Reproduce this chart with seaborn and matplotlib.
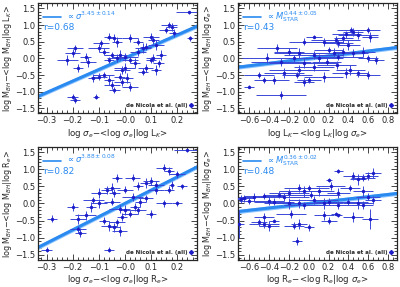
import numpy as np
import seaborn as sns
import matplotlib.pyplot as plt
from matplotlib.lines import Line2D
from matplotlib.ticker import MultipleLocator

# data
sig_lk_x = [0.245, 0.17, 0.18, 0.16, 0.19, 0.25, 0.10, 0.11, 0.12, 0.08, 0.02, 0.05, 0.07,
            -0.06, -0.04, -0.03, -0.09, -0.10, -0.08, -0.20, -0.22, -0.18, -0.19, -0.14, -0.15,
            -0.05, -0.03, -0.06, -0.02, 0.00, 0.02, 0.04, 0.05, 0.10, 0.11, 0.12, 0.08, 0.07,
            0.00, -0.01, -0.02, -0.01, 0.01, 0.02, -0.10, -0.12, -0.08, -0.06, -0.05, -0.04,
            -0.20, -0.19, -0.11, 0.14, 0.13]
sig_lk_y = [1.38, 1.00, 0.95, 0.85, 0.75, 0.60, 0.65, 0.55, 0.40, 0.35, 0.60, 0.50, 0.30,
            0.65, 0.60, 0.50, 0.45, 0.30, 0.20, 0.15, -0.05, -0.30, 0.30, -0.10, 0.05,
            0.10, 0.00, -0.05, 0.10, 0.05, -0.05, -0.15, 0.20, -0.05, 0.00, -0.35, -0.30, -0.40,
            -0.30, -0.35, -0.55, -0.70, -0.60, -0.85, -0.55, -0.60, -0.50, -0.65, -0.80, -0.95,
            -1.15, -1.25, -1.15, 0.10, -0.15]
sig_lk_xerr = [0.05, 0.03, 0.02, 0.03, 0.02, 0.01, 0.03, 0.02, 0.03, 0.02, 0.03, 0.02, 0.03,
               0.02, 0.03, 0.02, 0.03, 0.04, 0.02, 0.03, 0.04, 0.02, 0.03, 0.03, 0.02,
               0.03, 0.04, 0.02, 0.03, 0.05, 0.03, 0.02, 0.03, 0.02, 0.03, 0.02, 0.03, 0.02,
               0.04, 0.03, 0.02, 0.03, 0.02, 0.03, 0.03, 0.02, 0.04, 0.02, 0.03, 0.02,
               0.02, 0.02, 0.01, 0.02, 0.02]
sig_lk_yerr = [0.05, 0.10, 0.12, 0.10, 0.12, 0.08, 0.10, 0.12, 0.15, 0.10, 0.12, 0.10, 0.15,
               0.10, 0.12, 0.15, 0.10, 0.12, 0.10, 0.12, 0.15, 0.12, 0.10, 0.15, 0.12,
               0.10, 0.12, 0.10, 0.15, 0.12, 0.10, 0.15, 0.12, 0.10, 0.12, 0.15, 0.12, 0.10,
               0.15, 0.12, 0.10, 0.12, 0.15, 0.12, 0.10, 0.12, 0.10, 0.15, 0.12, 0.10,
               0.08, 0.10, 0.08, 0.15, 0.10]

lk_x = [0.43, 0.45, 0.60, 0.62, 0.50, 0.38, 0.35, 0.27, 0.30, 0.40, 0.15, 0.05, -0.05,
        -0.32, -0.20, -0.10, 0.05, 0.20, 0.25, 0.35, 0.30, 0.45, 0.55, 0.60, 0.68,
        -0.42, -0.28, -0.15, -0.05, 0.10, 0.18, 0.28, 0.42, 0.50, 0.60, 0.38,
        -0.60, -0.45, -0.35, -0.25, -0.12, -0.05, 0.00, 0.15, -0.28, -0.50, -0.10, 0.05]
lk_y = [0.85, 0.80, 0.85, 0.65, 0.70, 0.72, 0.60, 0.55, 0.45, 0.40, 0.50, 0.65, 0.50,
        0.30, 0.20, 0.15, 0.10, 0.25, 0.15, 0.20, 0.05, 0.15, 0.20, 0.00, -0.05,
        0.00, -0.10, 0.00, -0.15, 0.00, -0.10, -0.20, -0.35, -0.45, -0.50, -0.45,
        -0.85, -0.65, -0.65, -0.45, -0.50, -0.70, -0.65, -0.55, -1.10, -0.50, -0.35, -0.25]
lk_xerr = [0.15, 0.10, 0.12, 0.08, 0.20, 0.15, 0.10, 0.25, 0.15, 0.12, 0.20, 0.08, 0.15,
           0.20, 0.15, 0.25, 0.30, 0.15, 0.20, 0.10, 0.25, 0.15, 0.12, 0.10, 0.08,
           0.25, 0.30, 0.20, 0.35, 0.25, 0.15, 0.20, 0.15, 0.10, 0.12, 0.15,
           0.05, 0.10, 0.15, 0.20, 0.15, 0.10, 0.12, 0.20, 0.25, 0.15, 0.30, 0.20]
lk_yerr = [0.10, 0.12, 0.10, 0.15, 0.12, 0.10, 0.15, 0.12, 0.10, 0.15, 0.12, 0.05, 0.10,
           0.12, 0.10, 0.15, 0.12, 0.10, 0.15, 0.12, 0.10, 0.12, 0.15, 0.10, 0.12,
           0.15, 0.12, 0.10, 0.15, 0.12, 0.10, 0.12, 0.15, 0.10, 0.12, 0.15,
           0.05, 0.10, 0.12, 0.15, 0.10, 0.12, 0.10, 0.15, 0.12, 0.10, 0.15, 0.12]

sig_re_x = [0.24, 0.15, 0.17, 0.20, 0.22, 0.18, 0.17, 0.10, 0.08, 0.12, 0.05, 0.03, -0.03,
            -0.05, -0.04, 0.00, 0.03, 0.06, 0.08, 0.10, 0.15, 0.20, 0.12,
            -0.10, -0.07, -0.12, -0.10, -0.13, -0.05, -0.02, 0.00, 0.02, 0.04, 0.05,
            -0.20, -0.18, -0.15, -0.08, -0.06, -0.04, -0.03, -0.01, -0.02,
            -0.18, -0.17, -0.28, -0.30, -0.06]
sig_re_y = [1.55, 1.05, 0.95, 0.85, 0.50, 0.55, 0.40, 0.65, 0.60, 0.55, 0.50, 0.75, 0.75,
            0.45, 0.30, 0.40, 0.20, 0.05, 0.15, -0.30, 0.00, 0.00, 0.40,
            0.30, 0.40, 0.10, 0.00, -0.10, 0.05, -0.15, -0.20, -0.30, -0.10, -0.20,
            -0.10, -0.45, -0.35, -0.50, -0.65, -0.70, -0.55, -0.40, -0.80,
            -0.75, -0.85, -0.45, -1.35, -1.35]
sig_re_xerr = [0.05, 0.03, 0.02, 0.03, 0.02, 0.01, 0.02, 0.03, 0.02, 0.03, 0.02, 0.03, 0.02,
               0.03, 0.02, 0.03, 0.04, 0.02, 0.03, 0.02, 0.03, 0.02, 0.03,
               0.03, 0.02, 0.04, 0.03, 0.02, 0.03, 0.04, 0.02, 0.03, 0.02, 0.03,
               0.02, 0.03, 0.04, 0.02, 0.03, 0.02, 0.03, 0.02, 0.03,
               0.03, 0.02, 0.02, 0.02, 0.02]
sig_re_yerr = [0.05, 0.10, 0.12, 0.10, 0.08, 0.12, 0.10, 0.12, 0.15, 0.10, 0.12, 0.10, 0.12,
               0.15, 0.12, 0.10, 0.12, 0.15, 0.10, 0.12, 0.10, 0.08, 0.12,
               0.15, 0.12, 0.10, 0.12, 0.15, 0.10, 0.12, 0.15, 0.10, 0.12, 0.10,
               0.12, 0.15, 0.12, 0.10, 0.15, 0.12, 0.10, 0.12, 0.15,
               0.10, 0.12, 0.10, 0.08, 0.08]

re_x = [0.65, 0.60, 0.55, 0.45, 0.50, 0.30, 0.20, 0.22, 0.42, 0.30, 0.10, 0.00, -0.05,
        -0.10, 0.02, -0.20, -0.30, -0.25, -0.45, -0.55, -0.65, -0.68,
        -0.60, -0.40, -0.35, -0.20, -0.10, -0.05, 0.05, 0.15, 0.20, 0.30, 0.40, 0.50,
        0.55, 0.60, 0.65, 0.55,
        -0.45, -0.50, -0.45, -0.40, -0.35, -0.18, -0.15, -0.10, 0.00, 0.15, 0.20, 0.27,
        0.30, 0.45, 0.62, -0.12, -0.70]
re_y = [0.90, 0.80, 0.75, 0.80, 0.70, 0.95, 0.68, 0.50, 0.45, 0.30, 0.35, 0.45, 0.35,
        0.45, 0.25, 0.30, 0.25, 0.20, 0.22, 0.20, 0.15, 0.12,
        0.08, 0.08, 0.05, 0.00, 0.00, -0.05, 0.10, 0.00, 0.05, -0.05, 0.05, 0.00,
        -0.05, 0.20, 0.10, 0.35,
        -0.40, -0.55, -0.60, -0.65, -0.50, -0.30, -0.65, -0.60, -0.70, -0.35, -0.50, -0.30,
        -0.35, -0.40, -0.45, -1.10, -0.60]
re_xerr = [0.08, 0.10, 0.12, 0.10, 0.08, 0.05, 0.03, 0.15, 0.10, 0.12, 0.15, 0.20, 0.25,
           0.15, 0.30, 0.20, 0.15, 0.25, 0.20, 0.15, 0.10, 0.05,
           0.10, 0.15, 0.20, 0.25, 0.30, 0.20, 0.25, 0.20, 0.15, 0.25, 0.20, 0.15,
           0.10, 0.12, 0.08, 0.10,
           0.10, 0.08, 0.15, 0.10, 0.05, 0.15, 0.10, 0.08, 0.05, 0.10, 0.08, 0.05,
           0.04, 0.10, 0.08, 0.05, 0.05]
re_yerr = [0.15, 0.12, 0.10, 0.12, 0.15, 0.05, 0.05, 0.12, 0.10, 0.15, 0.12, 0.10, 0.15,
           0.12, 0.10, 0.12, 0.10, 0.12, 0.10, 0.12, 0.10, 0.12,
           0.10, 0.12, 0.10, 0.15, 0.12, 0.10, 0.12, 0.15, 0.10, 0.12, 0.10, 0.15,
           0.12, 0.10, 0.12, 0.15,
           0.12, 0.10, 0.12, 0.15, 0.05, 0.12, 0.10, 0.15, 0.10, 0.12, 0.10, 0.05,
           0.05, 0.15, 0.30, 0.12, 0.40]

# fits: intercept, slope
fits = [(0.01, 3.45), (0.00, 0.37), (0.0, 3.85), (0.0, 0.33)]
fit_labels = [r'$\propto\sigma^{3.45\pm0.14}$', r'$\propto M_{\rm STAR}^{0.44\pm0.05}$',
              r'$\propto\sigma^{3.88\pm0.08}$', r'$\propto M_{\rm STAR}^{0.36\pm0.02}$']
r_values = ['r=0.68', 'r=0.43', 'r=0.82', 'r=0.48']

xlabels = [r'log $\sigma_e$$-$<log $\sigma_e$|log L$_K$>',
           r'log L$_K$$-$<log L$_K$|log $\sigma_e$>',
           r'log $\sigma_e$$-$<log $\sigma_e$|log R$_e$>',
           r'log R$_e$$-$<log R$_e$|log $\sigma_e$>']
ylabels = [r'log M$_{BH}$$-$<log M$_{BH}$|log L$_K$>',
           r'log M$_{BH}$$-$<log M$_{BH}$|log $\sigma_e$>',
           r'log M$_{BH}$$-$<log M$_{BH}$|log R$_e$>',
           r'log M$_{BH}$$-$<log M$_{BH}$|log $\sigma_e$>']

panels = [(sig_lk_x, sig_lk_y, sig_lk_xerr, sig_lk_yerr),
          (lk_x, lk_y, lk_xerr, lk_yerr),
          (sig_re_x, sig_re_y, sig_re_xerr, sig_re_yerr),
          (re_x, re_y, re_xerr, re_yerr)]

sns.set_style("ticks")
plt.rcParams['font.family'] = ['DejaVu Sans']
plt.rcParams['mathtext.fontset'] = 'dejavusans'
plt.rcParams['xtick.direction'] = 'in'
plt.rcParams['ytick.direction'] = 'in'

fig = plt.figure(figsize=(4, 2.87), dpi=100)
boxes = [[0.095, 0.605, 0.398, 0.383], [0.595, 0.605, 0.398, 0.383],
         [0.095, 0.094, 0.398, 0.394], [0.595, 0.094, 0.398, 0.394]]

line_col = '#2a8af0'
pt_col = '#1c1cc8'
err_col = '#3a48d8'

for i, (x, y, xe, ye) in enumerate(panels):
    ax = fig.add_axes(boxes[i])
    wide = i in (1, 3)
    xlim = (-0.71, 0.89) if wide else (-0.333, 0.278)
    ax.set_xlim(*xlim)
    ax.set_ylim(-1.65, 1.65)
    xs = np.linspace(xlim[0], xlim[1], 50)
    b, m = fits[i]
    ax.fill_between(xs, b + m * xs - 0.06, b + m * xs + 0.06, color='#8cc4ff', lw=0, zorder=1)
    ax.plot(xs, b + m * xs, color=line_col, lw=2.2, zorder=2)
    ax.errorbar(x, y, xerr=xe, yerr=ye, fmt='none', ecolor=err_col, elinewidth=0.7,
                capsize=0, zorder=3)
    sns.scatterplot(x=x, y=y, ax=ax, color=pt_col, s=6, marker='o', linewidth=0, zorder=4)

    h1 = Line2D([], [], color=line_col, lw=1.2)
    leg = ax.legend([h1], [fit_labels[i]], loc='upper left', frameon=False, fontsize=6,
                    handlelength=2.2, borderaxespad=0.2, labelcolor=line_col,
                    bbox_to_anchor=(0.0, 0.99), handletextpad=0.5)
    ax.add_artist(leg)
    ax.text(0.035, 0.76, r_values[i], transform=ax.transAxes, color=line_col, fontsize=6.5)
    h2 = Line2D([], [], color=pt_col, marker='D', ls='none', markersize=2)
    ax.legend([h2], ['de Nicola et al. (all)'], loc='lower right', frameon=False,
              markerfirst=False, handlelength=0.6, handletextpad=0.3,
              borderaxespad=0.5, prop={'weight': 'bold', 'size': 4})

    ax.xaxis.set_major_locator(MultipleLocator(0.2 if wide else 0.1))
    ax.xaxis.set_minor_locator(MultipleLocator(0.05 if wide else 0.02))
    ax.yaxis.set_major_locator(MultipleLocator(0.5))
    ax.yaxis.set_minor_locator(MultipleLocator(0.1))
    ax.tick_params(which='both', top=True, right=True, labelsize=6, width=0.6, pad=2)
    ax.tick_params(which='major', length=4)
    ax.tick_params(which='minor', length=2)
    ticks = ax.get_xticks()
    zero_lab = '0.0' if wide else '\u22120.0'
    ax.set_xticks(ticks)
    ax.set_xticklabels([('%.1f' % v).replace('-', '\u2212') if abs(v) > 1e-9 else zero_lab
                        for v in ticks])
    ax.set_xlim(*xlim)
    for s in ax.spines.values():
        s.set_linewidth(0.9)
    ax.set_xlabel(xlabels[i], fontsize=6.2, labelpad=1)
    ax.set_ylabel(ylabels[i], fontsize=5.8, labelpad=1)

fig.savefig('out.png', dpi=100)
